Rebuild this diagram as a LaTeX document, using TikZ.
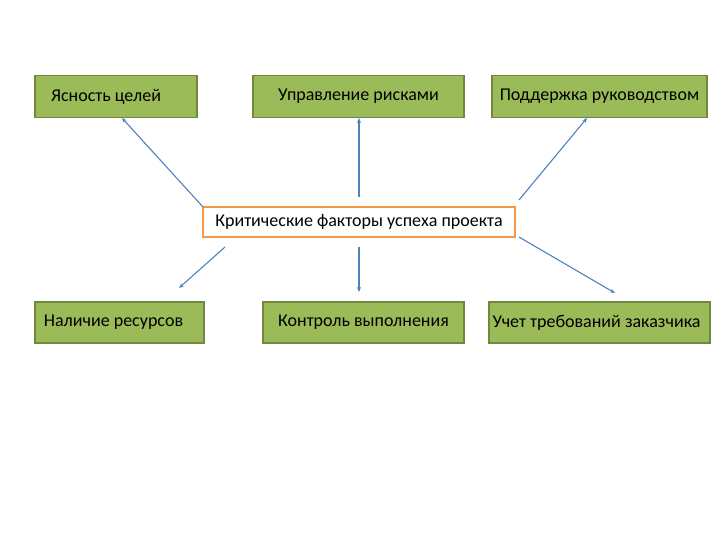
\documentclass[tikz,border=0pt]{standalone}
\usepackage{fontspec}
\setmainfont{Carlito}
\usetikzlibrary{arrows.meta}
\definecolor{gfill}{HTML}{9BBB59}
\definecolor{gline}{HTML}{71893F}
\definecolor{oline}{HTML}{F79646}
\definecolor{aline}{HTML}{4F81BD}
\tikzset{
  gbox/.style={draw=gline, line width=1.2pt, fill=gfill, inner sep=0pt, font=\fontsize{18}{21}\selectfont, text=black},
  cbox/.style={draw=oline, line width=1.2pt, fill=white, inner sep=0pt, font=\fontsize{18}{21}\selectfont, text=black},
  conn/.style={draw=aline, line width=1.1pt, -{Stealth[length=5pt,width=4pt]}}
}
\begin{document}
\begin{tikzpicture}[x=1pt,y=-1pt]
\useasboundingbox (0,0) rectangle (720,540);
\node[gbox, minimum width=162pt, minimum height=42pt] (b1) at (116,96.5) {Ясность целей\hspace*{20pt}};
\node[gbox, minimum width=211pt, minimum height=42pt] (b2) at (358.5,96.5) {Управление рисками};
\node[gbox, minimum width=215pt, minimum height=42pt] (b3) at (599.5,96.5) {Поддержка руководством};
\node[cbox, minimum width=312pt, minimum height=30pt] (c) at (359,222) {Критические факторы успеха проекта};
\node[gbox, minimum width=169pt, minimum height=41pt] (b4) at (119.5,322.5) {Наличие ресурсов\hspace*{12pt}};
\node[gbox, minimum width=201pt, minimum height=41pt] (b5) at (363.5,322.5) {Контроль выполнения};
\node[gbox, minimum width=221pt, minimum height=41pt] (b6) at (599.5,322.5) {Учет требований заказчика\hspace*{6pt}};
\coordinate (s1) at (203,207);
\coordinate (e1) at (122,118);
\coordinate (s2) at (359,197);
\coordinate (e2) at (359,118);
\coordinate (s3) at (519,200);
\coordinate (e3) at (587,118);
\coordinate (s4) at (225,247);
\coordinate (e4) at (179,288);
\coordinate (s5) at (359,247);
\coordinate (e5) at (359,292);
\coordinate (s6) at (519,237);
\coordinate (e6) at (615,293);
\draw[conn] (s1) -- (e1);
\draw[conn] (s2) -- (e2);
\draw[conn] (s3) -- (e3);
\draw[conn] (s4) -- (e4);
\draw[conn] (s5) -- (e5);
\draw[conn] (s6) -- (e6);
\end{tikzpicture}
\end{document}
